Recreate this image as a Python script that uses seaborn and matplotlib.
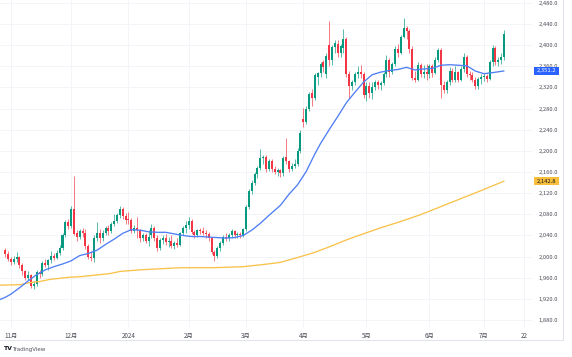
import matplotlib
matplotlib.use("Agg")
import matplotlib.pyplot as plt
import matplotlib.transforms as mtransforms
from matplotlib.lines import Line2D
from matplotlib.patches import Rectangle
import numpy as np
import pandas as pd
import seaborn as sns

# ---------------- data (daily candles, bar 0 = 1 Nov 2023) ----------------
first_bar = -2
opens = [2013,2005,1995,1990,1996,1999,1985,1972,1960,1966,
         1945,1948,1970,1967,1988,1984,1993,2001,1997,2007,
         2016,2041,2066,2058,2090,2045,2038,2048,2045,2020,
         2000,1998,2035,2045,2035,2045,2055,2048,2062,2068,
         2078,2090,2077,2072,2070,2048,2054,2050,2035,2040,
         2030,2040,2054,2036,2016,2031,2036,2028,2030,2020,
         2026,2022,2045,2055,2060,2068,2046,2040,2050,2048,
         2045,2042,2036,2008,2002,2016,2025,2038,2035,2040,
         2048,2040,2042,2040,2052,2094,2124,2140,2157,2167,
         2186,2189,2166,2180,2166,2161,2163,2158,2188,2180,
         2165,2172,2176,2200,2260,2255,2280,2310,2300,2340,
         2347,2368,2345,2400,2372,2396,2402,2385,2395,2411,
         2345,2322,2330,2345,2350,2346,2305,2322,2310,2320,
         2330,2324,2328,2345,2372,2350,2365,2392,2385,2416,
         2432,2426,2393,2338,2335,2362,2345,2350,2345,2360,
         2348,2372,2390,2325,2315,2330,2352,2335,2350,2335,
         2355,2378,2346,2344,2335,2322,2336,2340,2342,2336,
         2368,2395,2368,2372,2378]
highs = [2017,2010,2000,2002,2009,2002,1988,1975,1972,1968,
         1953,1975,1975,1992,1996,1995,2010,2007,2012,2022,
         2045,2070,2072,2095,2152,2050,2052,2054,2052,2024,
         2010,2040,2065,2052,2050,2058,2060,2065,2080,2082,
         2095,2094,2082,2084,2073,2060,2075,2052,2045,2045,
         2050,2062,2058,2040,2035,2040,2042,2037,2040,2030,
         2035,2047,2058,2068,2075,2072,2050,2052,2055,2056,
         2050,2046,2038,2012,2020,2030,2040,2044,2045,2052,
         2050,2046,2046,2055,2097,2128,2145,2160,2172,2203,
         2192,2193,2184,2185,2172,2168,2166,2190,2225,2183,
         2178,2185,2205,2240,2282,2285,2312,2318,2348,2350,
         2368,2372,2385,2445,2400,2410,2410,2403,2431,2415,
         2352,2335,2350,2360,2362,2350,2330,2330,2330,2335,
         2335,2332,2350,2382,2375,2368,2398,2402,2420,2451,
         2436,2430,2398,2352,2368,2366,2362,2365,2365,2365,
         2378,2395,2395,2332,2335,2358,2356,2360,2352,2360,
         2385,2382,2352,2350,2340,2340,2345,2348,2346,2372,
         2400,2398,2378,2385,2428]
lows = [2000,1992,1985,1986,1990,1978,1966,1955,1955,1940,
        1938,1945,1960,1964,1980,1975,1988,1993,1995,2003,
        2013,2038,2052,2055,2040,2030,2034,2038,2014,1996,
        1992,1990,2030,2025,2030,2040,2040,2045,2058,2064,
        2074,2072,2062,2062,2045,2045,2035,2028,2030,2025,
        2020,2035,2030,2010,2013,2024,2022,2018,2016,2015,
        2018,2020,2040,2045,2052,2043,2035,2037,2043,2040,
        2036,2030,2005,1992,1998,2010,2022,2030,2030,2036,
        2036,2035,2035,2038,2048,2090,2118,2136,2148,2163,
        2176,2160,2162,2160,2156,2152,2150,2152,2176,2160,
        2162,2168,2172,2196,2245,2250,2276,2285,2296,2325,
        2340,2350,2338,2360,2362,2385,2378,2378,2385,2340,
        2300,2315,2325,2338,2338,2300,2295,2300,2298,2315,
        2318,2315,2325,2340,2340,2345,2360,2378,2383,2413,
        2412,2385,2335,2330,2332,2340,2338,2335,2338,2340,
        2345,2368,2300,2310,2310,2325,2330,2330,2330,2332,
        2350,2340,2335,2330,2318,2318,2326,2332,2330,2334,
        2360,2362,2360,2365,2372]
closes = [2005,1995,1990,1996,1999,1985,1972,1960,1966,1945,
          1948,1970,1967,1988,1984,1993,2001,1997,2007,2016,
          2041,2066,2058,2090,2042,2038,2048,2045,2020,2000,
          1998,2035,2045,2035,2045,2055,2048,2062,2068,2078,
          2090,2077,2070,2070,2048,2054,2050,2035,2040,2030,
          2038,2054,2036,2016,2031,2036,2028,2030,2020,2026,
          2022,2045,2055,2060,2068,2046,2040,2050,2048,2045,
          2042,2036,2008,2002,2016,2025,2038,2035,2040,2048,
          2040,2042,2040,2052,2094,2124,2140,2157,2167,2186,
          2189,2166,2180,2166,2161,2163,2158,2186,2180,2165,
          2172,2176,2200,2234,2255,2280,2307,2300,2343,2347,
          2364,2358,2379,2372,2396,2404,2385,2398,2411,2346,
          2322,2330,2345,2350,2346,2305,2322,2310,2320,2330,
          2324,2328,2345,2372,2350,2365,2392,2385,2416,2432,
          2426,2393,2338,2335,2362,2345,2350,2345,2360,2348,
          2372,2390,2325,2315,2330,2352,2335,2350,2335,2355,
          2378,2346,2344,2335,2322,2336,2340,2342,2336,2368,
          2395,2368,2372,2378,2421]

# 25-day moving average (blue)
ma25_bar = [-3.8,-2,0,3,6,9,12,15,18,21,24,27,30,33,36,39,42,45,48,51,54,57,60,63,66,69,72,75,78,81,
            84,87,90,94,97,100,103,106,108,111,114,117,120,123,126,129,132,135,138,141,144,147,150,153,
            156,159,162,165,168,172]
ma25_val = [1919,1923,1929,1941,1954,1966,1975,1981,1986,1992,2002,2006,2012,2023,2033,2044,2051,2050,2047,2046,
            2046,2043,2040,2038,2038,2037,2036,2035,2036,2040,2050,2063,2078,2097,2118,2136,2161,2194,2214,2240,
            2265,2291,2311,2330,2344,2349,2352,2354,2358,2353,2355,2356,2362,2363,2362,2361,2351,2346,2348,2351.2]
# 200-day moving average (orange)
ma200_bar = [-3.8,3.2,6.7,10.2,13.6,17.1,20.6,24.1,27.6,31.1,34.6,38.1,45,52,59,70.5,81,87.9,93.9,99.8,
             105.4,111.3,117.2,121.8,128.7,135.7,142.7,149.7,156.6,163.6,172]
ma200_val = [1946,1947,1951,1953,1957,1959,1961,1962,1964,1966,1968,1972,1975,1977,1979,1979,1981,1985,1989,1998,
             2007,2019,2032,2041,2054,2066,2079,2094,2109,2124,2142.8]

tick_bars = [0, 21, 41, 62, 82, 102, 124, 146, 165, 179]
tick_labels = ["11月", "12月", "2024", "2月", "3月", "4月", "5月", "6月", "7月", "22"]
price_ticks = list(range(1880, 2481, 40))

# ---------------- figure ----------------
sns.set_theme(style="white")
plt.rcParams['font.family'] = ['Noto Sans CJK JP', 'DejaVu Sans']

W, H = 572, 357
fig = plt.figure(figsize=(W / 100, H / 100), dpi=100)
fig.patch.set_facecolor("white")
ax = fig.add_axes([0, 29 / H, 532 / W, 328 / H])
ax.set_facecolor("white")

up_c, dn_c = "#089981", "#f23645"
bars = np.arange(first_bar, first_bar + len(closes))
df = pd.DataFrame({"bar": bars, "o": opens, "h": highs, "l": lows, "c": closes})
df["col"] = np.where(df["c"] >= df["o"], up_c, dn_c)
df["body_lo"] = df[["o", "c"]].min(axis=1)
df["body_h"] = (df["c"] - df["o"]).abs().clip(lower=1.0)

ax.vlines(df["bar"], df["l"], df["h"], colors=df["col"], linewidth=0.55, alpha=0.85, zorder=3)
ax.bar(df["bar"], df["body_h"], bottom=df["body_lo"], width=0.7, color=df["col"],
       linewidth=0, zorder=4)

sns.lineplot(x=ma200_bar, y=ma200_val, ax=ax, color="#f8c24b", linewidth=0.95, sort=False, zorder=5)
sns.lineplot(x=ma25_bar, y=ma25_val, ax=ax, color="#4f7ef5", linewidth=0.95, sort=False, zorder=6)

lab_c = "#4a4d57"
ax.set_xlim(-3.8, 181.76)
ax.set_ylim(1865, 2485.4)
ax.set_xticks(tick_bars)
ax.set_xticklabels(tick_labels, fontsize=4.5, color=lab_c)
ax.set_yticks(price_ticks)
ax.set_yticklabels([f"{v:,.1f}" for v in price_ticks], fontsize=4.2, color=lab_c)
ax.yaxis.tick_right()
ax.tick_params(axis="x", length=0, pad=2.6)
ax.tick_params(axis="y", length=0, pad=4.5)
ax.grid(True, color="#f3f4f8", linewidth=0.7)
ax.set_axisbelow(True)
for s in ax.spines.values():
    s.set_visible(False)
ax.set_xlabel("")
ax.set_ylabel("")

# price tags on the scale
tr = mtransforms.blended_transform_factory(fig.transFigure, ax.transData)
px_per_unit = 328 / (2485.4 - 1865)
for val, bg, fg in [(ma25_val[-1], "#2962ff", "white"), (ma200_val[-1], "#f9bf3c", "#131722")]:
    hgt = 7.5 / px_per_unit
    ax.add_patch(Rectangle((534 / W, val - hgt / 2), 25 / W, hgt, transform=tr,
                           facecolor=bg, edgecolor="none", clip_on=False, zorder=10))
    ax.text(546.5 / W, val, f"{val:,.1f}", transform=tr, ha="center", va="center",
            fontsize=4.2, color=fg, clip_on=False, zorder=11)

# chart borders
fig.add_artist(Line2D([563 / W, 563 / W], [1 - 340 / H, 1], transform=fig.transFigure,
                      color="#e0e3eb", linewidth=0.7))
fig.add_artist(Line2D([0, 563 / W], [1 - 340 / H, 1 - 340 / H], transform=fig.transFigure,
                      color="#e0e3eb", linewidth=0.7))

# TradingView logo
fig.text(3 / W, 1 - 349 / H, "TV", fontsize=4.5, fontweight="bold", color="#131722",
         va="center", ha="left", family=["DejaVu Sans"])
fig.text(12 / W, 1 - 349 / H, "TradingView", fontsize=4.0, color="#50535e",
         va="center", ha="left", family=["DejaVu Sans"])

fig.savefig("out.png", dpi=100, facecolor="white")
